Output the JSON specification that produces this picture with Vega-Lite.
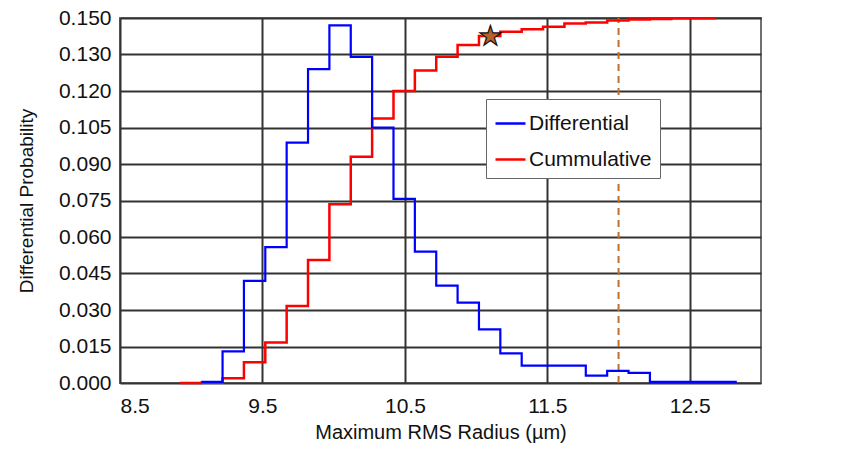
{
  "$schema": "https://vega.github.io/schema/vega-lite/v6.json",
  "width": 641,
  "height": 365,
  "autosize": {"type": "none"},
  "padding": {"left": 120, "top": 18, "right": 86, "bottom": 66},
  "background": "white",
  "config": {
    "font": "Liberation Sans",
    "view": {"stroke": "#707070", "strokeWidth": 2},
    "axis": {"labelColor": "#111", "titleColor": "#111", "titleFontWeight": "normal"}
  },
  "layer": [
    {
      "layer": [
        {
          "data": {"values": [{"radius": 12.0, "lo": 0, "hi": 1}]},
          "mark": {"type": "rule", "color": "#c0702e", "strokeWidth": 2, "strokeDash": [7, 5]},
          "encoding": {
            "x": {"field": "radius", "type": "quantitative", "scale": {"domain": [8.5, 13.0], "nice": false, "zero": false}},
            "y": {"field": "lo", "type": "quantitative", "axis": null},
            "y2": {"field": "hi"}
          }
        },
        {
          "data": {"values": [
            {"radius": 8.92, "prob": 0.0, "series": "Cummulative"},
            {"radius": 9.07, "prob": 0.001, "series": "Cummulative"},
            {"radius": 9.22, "prob": 0.013, "series": "Cummulative"},
            {"radius": 9.37, "prob": 0.057, "series": "Cummulative"},
            {"radius": 9.52, "prob": 0.111, "series": "Cummulative"},
            {"radius": 9.67, "prob": 0.211, "series": "Cummulative"},
            {"radius": 9.82, "prob": 0.337, "series": "Cummulative"},
            {"radius": 9.97, "prob": 0.49, "series": "Cummulative"},
            {"radius": 10.12, "prob": 0.62, "series": "Cummulative"},
            {"radius": 10.27, "prob": 0.725, "series": "Cummulative"},
            {"radius": 10.42, "prob": 0.80, "series": "Cummulative"},
            {"radius": 10.57, "prob": 0.856, "series": "Cummulative"},
            {"radius": 10.72, "prob": 0.894, "series": "Cummulative"},
            {"radius": 10.87, "prob": 0.926, "series": "Cummulative"},
            {"radius": 11.02, "prob": 0.951, "series": "Cummulative"},
            {"radius": 11.17, "prob": 0.962, "series": "Cummulative"},
            {"radius": 11.32, "prob": 0.969, "series": "Cummulative"},
            {"radius": 11.47, "prob": 0.976, "series": "Cummulative"},
            {"radius": 11.62, "prob": 0.985, "series": "Cummulative"},
            {"radius": 11.77, "prob": 0.988, "series": "Cummulative"},
            {"radius": 11.92, "prob": 0.993, "series": "Cummulative"},
            {"radius": 12.07, "prob": 0.996, "series": "Cummulative"},
            {"radius": 12.22, "prob": 0.997, "series": "Cummulative"},
            {"radius": 12.37, "prob": 0.999, "series": "Cummulative"},
            {"radius": 12.68, "prob": 0.999, "series": "Cummulative"}
          ]},
          "mark": {"type": "line", "interpolate": "step-after", "strokeWidth": 2.5},
          "encoding": {
            "x": {"field": "radius", "type": "quantitative"},
            "y": {
              "field": "prob", "type": "quantitative",
              "scale": {"domain": [0, 1], "nice": false},
              "axis": {
                "orient": "right", "title": "Cummulative Probability", "values": [0, 0.1, 0.2, 0.3, 0.4, 0.5, 0.6, 0.7, 0.8, 0.9, 1.0],
                "format": ".1f", "grid": false, "ticks": false, "domain": false, "labelOverlap": false,
                "labelFontSize": 21, "labelPadding": 13, "titleFontSize": 19, "titlePadding": 20
              }
            },
            "color": {
              "field": "series", "type": "nominal",
              "scale": {"domain": ["Differential", "Cummulative"], "range": ["#0000ff", "#ff0000"]},
              "legend": {
                "title": null, "orient": "none", "legendX": 366, "legendY": 81,
                "symbolType": "stroke", "symbolSize": 900, "symbolStrokeWidth": 2.5,
                "labelFontSize": 21, "labelColor": "#111", "rowPadding": 9, "padding": 8,
                "strokeColor": "#666", "fillColor": "white", "labelOffset": 2
              }
            }
          }
        },
        {
          "data": {"values": [{"radius": 11.1, "prob": 0.951, "symbol": "★"}]},
          "mark": {"type": "text", "font": "DejaVu Sans", "fontSize": 27, "align": "center", "baseline": "middle", "dy": 1, "fill": "#b8602c", "stroke": "#111", "strokeWidth": 1.2},
          "encoding": {
            "x": {"field": "radius", "type": "quantitative"},
            "y": {"field": "prob", "type": "quantitative", "axis": null},
            "text": {"field": "symbol"}
          }
        }
      ]
    },
    {
      "data": {"values": [
        {"radius": 9.07, "prob": 0.0005, "series": "Differential"},
        {"radius": 9.22, "prob": 0.013, "series": "Differential"},
        {"radius": 9.37, "prob": 0.042, "series": "Differential"},
        {"radius": 9.52, "prob": 0.0558, "series": "Differential"},
        {"radius": 9.67, "prob": 0.0988, "series": "Differential"},
        {"radius": 9.82, "prob": 0.129, "series": "Differential"},
        {"radius": 9.97, "prob": 0.147, "series": "Differential"},
        {"radius": 10.12, "prob": 0.134, "series": "Differential"},
        {"radius": 10.27, "prob": 0.105, "series": "Differential"},
        {"radius": 10.42, "prob": 0.0757, "series": "Differential"},
        {"radius": 10.57, "prob": 0.054, "series": "Differential"},
        {"radius": 10.72, "prob": 0.040, "series": "Differential"},
        {"radius": 10.87, "prob": 0.033, "series": "Differential"},
        {"radius": 11.02, "prob": 0.022, "series": "Differential"},
        {"radius": 11.17, "prob": 0.0122, "series": "Differential"},
        {"radius": 11.32, "prob": 0.0071, "series": "Differential"},
        {"radius": 11.47, "prob": 0.0071, "series": "Differential"},
        {"radius": 11.62, "prob": 0.0071, "series": "Differential"},
        {"radius": 11.77, "prob": 0.003, "series": "Differential"},
        {"radius": 11.92, "prob": 0.005, "series": "Differential"},
        {"radius": 12.07, "prob": 0.0042, "series": "Differential"},
        {"radius": 12.22, "prob": 0.0005, "series": "Differential"},
        {"radius": 12.37, "prob": 0.0005, "series": "Differential"},
        {"radius": 12.52, "prob": 0.0005, "series": "Differential"},
        {"radius": 12.67, "prob": 0.0005, "series": "Differential"},
        {"radius": 12.83, "prob": 0.0005, "series": "Differential"}
      ]},
      "mark": {"type": "line", "interpolate": "step-after", "strokeWidth": 2.2},
      "encoding": {
        "x": {
          "field": "radius", "type": "quantitative",
          "axis": {
            "title": "Maximum RMS Radius (µm)", "values": [8.5, 9.5, 10.5, 11.5, 12.5], "format": ".1f",
            "grid": true, "gridColor": "#333", "gridWidth": 2,
            "ticks": false, "domain": false, "labelFontSize": 21, "labelPadding": 12,
            "titleFontSize": 20, "titlePadding": 6
          }
        },
        "y": {
          "field": "prob", "type": "quantitative",
          "scale": {"domain": [0, 0.15], "nice": false},
          "axis": {
            "orient": "left", "title": "Differential Probability",
            "values": [0, 0.015, 0.03, 0.045, 0.06, 0.075, 0.09, 0.105, 0.12, 0.135, 0.15],
            "labelExpr": "datum.value > 0.13 && datum.value < 0.14 ? '0.130' : format(datum.value, '.3f')",
            "grid": true, "gridColor": "#333", "gridWidth": 1.8, "labelOverlap": false,
            "ticks": false, "domain": false, "labelFontSize": 21, "labelPadding": 9,
            "titleFontSize": 19, "titlePadding": 22
          }
        },
        "color": {"field": "series", "type": "nominal"}
      }
    }
  ],
  "resolve": {"scale": {"y": "independent"}}
}
